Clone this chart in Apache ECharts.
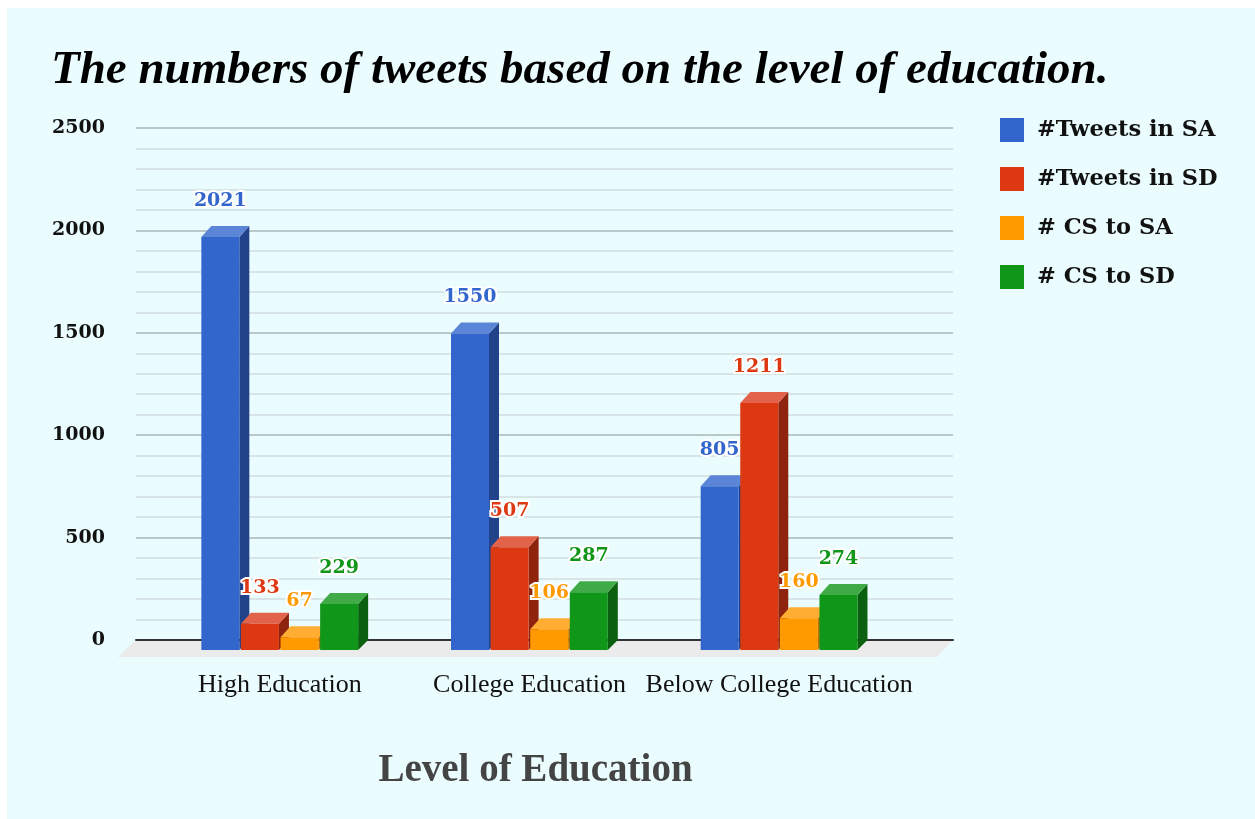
<!DOCTYPE html>
<html>
<head>
<meta charset="utf-8">
<script src="https://cdn.jsdelivr.net/npm/echarts@6/dist/echarts.min.js"></script>
<style>
html,body{margin:0;padding:0;background:#ffffff;}
#chart{width:1255px;height:819px;}
</style>
</head>
<body>
<div id="chart"></div>
<script>
// ---- data ----
const categories = ['High Education', 'College Education', 'Below College Education'];
const seriesNames = ['#Tweets in SA', '#Tweets in SD', '# CS to SA', '# CS to SD'];
const tweetsSA = [2021, 1550, 805];
const tweetsSD = [133, 507, 1211];
const csToSA = [67, 106, 160];
const csToSD = [229, 287, 274];
const yTicks = [0, 500, 1000, 1500, 2000, 2500];

const seriesValues = [tweetsSA, tweetsSD, csToSA, csToSD];
const colors = ['#3366CC', '#DC3912', '#FF9900', '#109618'];
const sideColors = ['#22428a', '#8e240d', '#c07200', '#0a600f'];
const topColors = ['#5b85d6', '#e3634a', '#ffad33', '#40ab46'];

const chart = echarts.init(document.getElementById('chart'), null, {renderer: 'canvas'});

const BAR_W = 38, STEP = 39.6, DX = 10, DY = 11;

function makeRender(s) {
  return function (params, api) {
    const cat = api.value(0);
    const v = api.value(1);
    const top = api.coord([cat, v]);
    const base = api.coord([cat, 0]);
    const cx = top[0];
    const x0 = cx - 78.5 + s * STEP;
    const x1 = x0 + BAR_W;
    const yv = top[1];
    const yb = base[1];
    return {
      type: 'group',
      children: [
        {type: 'polygon', shape: {points: [[x1, yv + DY], [x1 + DX, yv], [x1 + DX, yb], [x1, yb + DY - 1]]},
         style: {fill: sideColors[s]}},
        {type: 'polygon', shape: {points: [[x0, yv + DY], [x0 + DX, yv], [x1 + DX, yv], [x1, yv + DY]]},
         style: {fill: topColors[s]}},
        {type: 'rect', shape: {x: x0, y: yv + DY, width: BAR_W, height: (yb + DY - 1) - (yv + DY)},
         style: {fill: colors[s]}},
        {type: 'text', x: x0 + BAR_W / 2, y: yv - 25,
         style: {text: String(v), fill: colors[s], align: 'center', verticalAlign: 'middle',
                 font: 'bold 19px "DejaVu Serif"', stroke: '#ffffff', lineWidth: 4}}
      ]
    };
  };
}

const series = seriesValues.map((vals, s) => ({
  name: seriesNames[s],
  type: 'custom',
  xAxisIndex: 1,
  yAxisIndex: 1,
  itemStyle: {color: colors[s]},
  z: 10 + s,
  renderItem: makeRender(s),
  data: vals.map((v, i) => [i, v])
}));

const option = {
  backgroundColor: '#ffffff',
  animation: false,
  title: {
    text: 'The numbers of tweets based on the level of education.',
    left: 46, top: 42,
    textStyle: {fontFamily: '"Liberation Serif"', fontSize: 47, fontWeight: 'bold', fontStyle: 'italic', color: '#000'}
  },
  legend: {
    orient: 'vertical', left: 995, top: 113,
    itemWidth: 24, itemHeight: 24, itemGap: 25,
    icon: 'rect',
    data: seriesNames,
    textStyle: {fontFamily: '"DejaVu Serif"', fontWeight: 'bold', fontSize: 22.5, color: '#111', padding: [0, 0, 0, 8]}
  },
  graphic: [
    {type: 'rect', z: -10, shape: {x: 7, y: 8, width: 1248, height: 811}, style: {fill: '#EAFCFE'}},
    {type: 'polygon', z: -5, shape: {points: [[136, 640], [953, 640], [937, 657], [118, 657]]}, style: {fill: '#ebebeb'}}
  ],
  grid: [
    {left: 136, right: 302, top: 128, bottom: 179},
    {left: 155, right: 351, top: 128, bottom: 179}
  ],
  xAxis: [
    {type: 'value', gridIndex: 0, min: 0, max: 1, show: true,
     axisLine: {show: true, lineStyle: {color: '#333', width: 2}},
     axisTick: {show: false}, axisLabel: {show: false}, splitLine: {show: false}},
    {type: 'category', gridIndex: 1, data: categories,
     axisLine: {show: false}, axisTick: {show: false},
     axisLabel: {interval: 0, hideOverlap: false, margin: 32, fontFamily: '"Liberation Serif"', fontSize: 26, color: '#111'},
     name: 'Level of Education', nameLocation: 'middle', nameGap: 111,
     nameTextStyle: {fontFamily: '"Liberation Serif"', fontSize: 39, fontWeight: 'bold', color: '#444', padding: [0, 0, 0, 12]}}
  ],
  yAxis: [
    {type: 'value', gridIndex: 0, min: 0, max: 2500, interval: 500,
     axisLine: {show: false}, axisTick: {show: false},
     axisLabel: {margin: 31, fontFamily: '"DejaVu Serif"', fontWeight: 'bold', fontSize: 19, color: '#111',
                 formatter: v => yTicks.includes(v) ? String(v) : ''},
     splitLine: {show: true, lineStyle: {color: '#b9c9ca', width: 2}},
     minorTick: {show: false, splitNumber: 5},
     minorSplitLine: {show: true, lineStyle: {color: '#d8e4e5', width: 2}}},
    {type: 'value', gridIndex: 1, min: 0, max: 2500, interval: 500, show: false,
     splitLine: {show: false}}
  ],
  series: series
};
chart.setOption(option);
</script>
</body>
</html>
